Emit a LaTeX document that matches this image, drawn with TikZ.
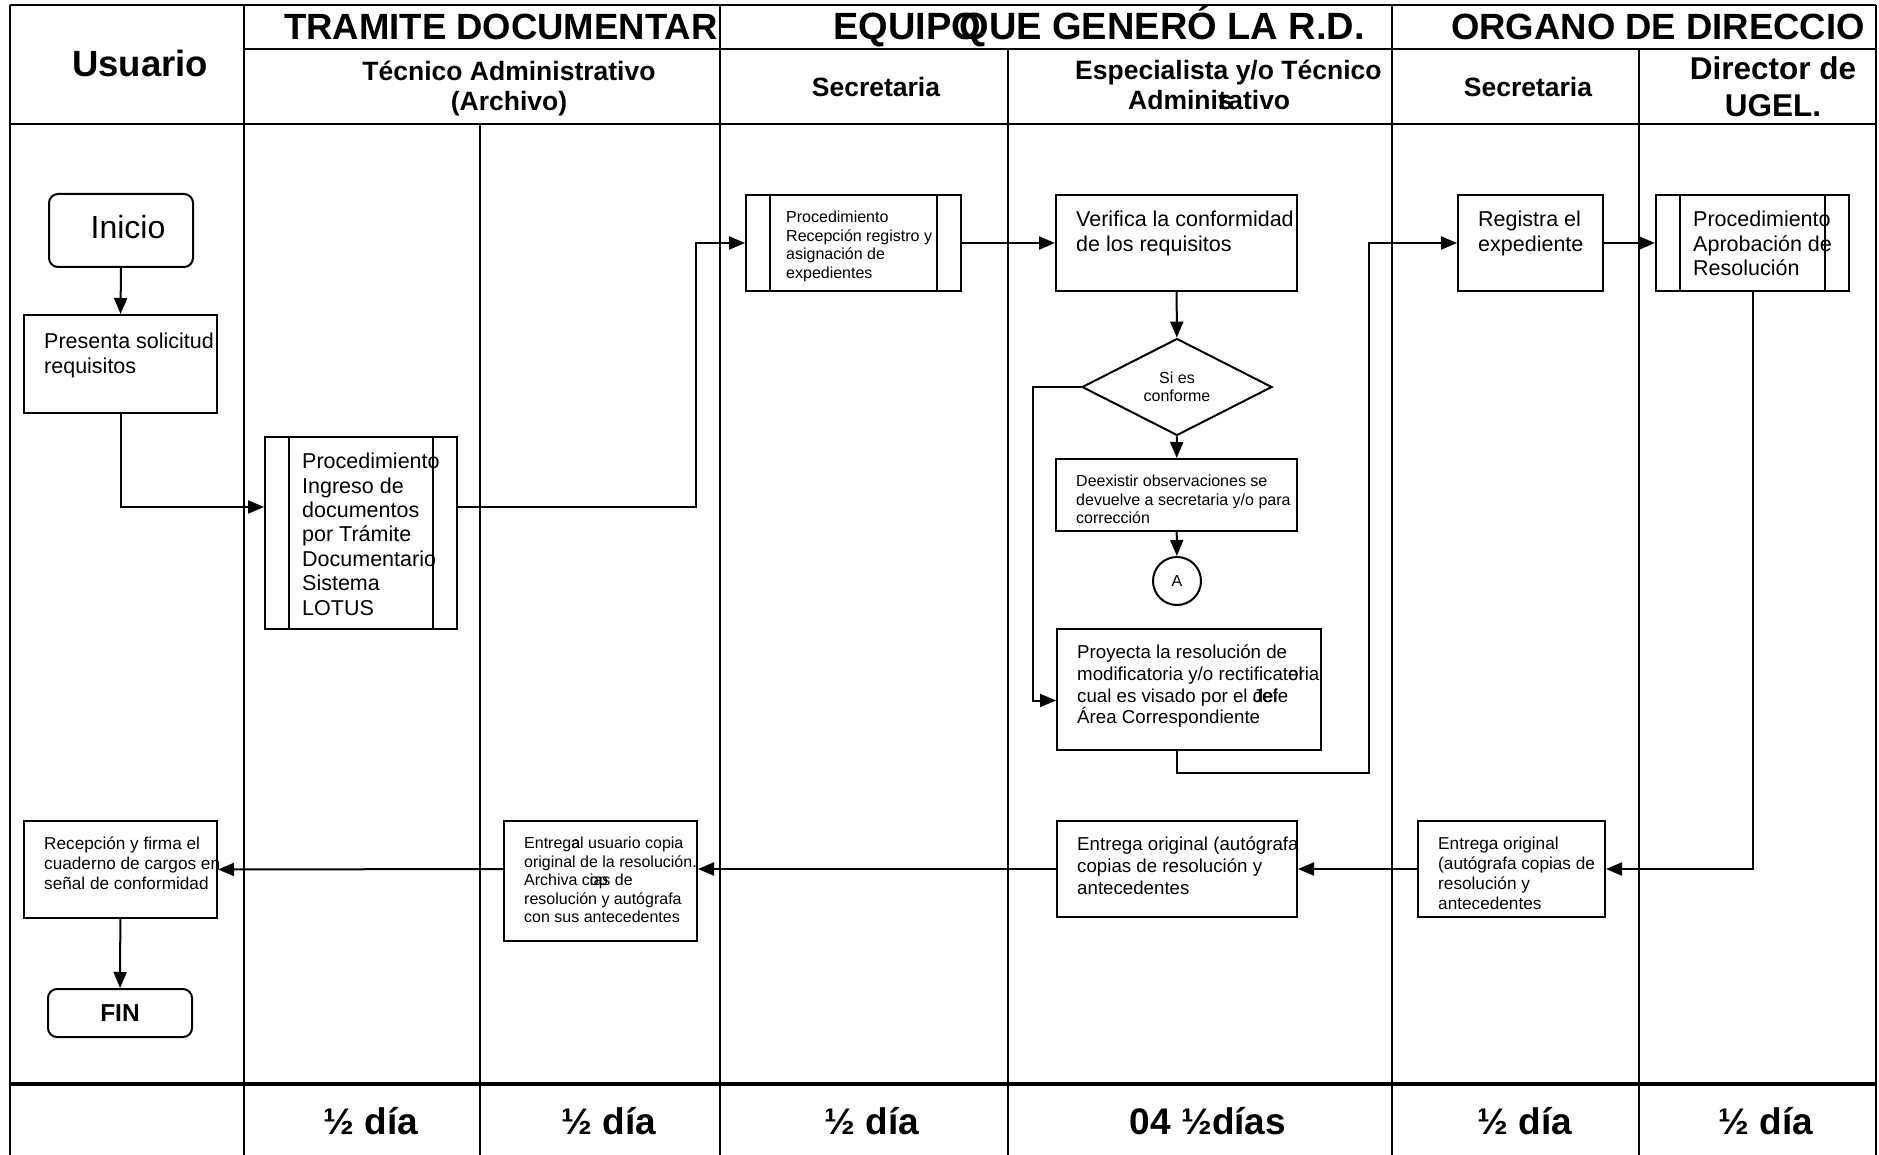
\documentclass[tikz,border=0pt]{standalone}
\usepackage{fontspec}
\setmainfont{Liberation Sans}
\usetikzlibrary{arrows.meta,shapes.geometric}

\tikzset{
  grid/.style={line width=2.3pt},
  stepbox/.style={draw, line width=2pt, inner sep=0pt},
  subproc/.style={stepbox, path picture={
      \draw[line width=2pt]
        ([xshift=24pt]path picture bounding box.north west) -- ([xshift=24pt]path picture bounding box.south west)
        ([xshift=-24pt]path picture bounding box.north east) -- ([xshift=-24pt]path picture bounding box.south east);}},
  endbox/.style={stepbox, rounded corners=9pt},
  lbl/.style={anchor=north west, align=left, inner xsep=21pt, inner ysep=17pt},
  fA/.style={font=\fontsize{21.5}{24.4}\selectfont},
  fB/.style={font=\fontsize{16}{18.5}\selectfont},
  fC/.style={font=\fontsize{18.7}{21.6}\selectfont},
  fD/.style={font=\fontsize{17.2}{20}\selectfont},
  hdbig/.style={font=\bfseries\fontsize{36.5}{40}\selectfont, inner sep=0pt},
  hdmid/.style={font=\bfseries\fontsize{26.5}{30.5}\selectfont, inner sep=0pt, align=center},
  hddir/.style={font=\bfseries\fontsize{31.5}{37.5}\selectfont, inner sep=0pt, align=center},
  dur/.style={font=\bfseries\fontsize{37}{40}\selectfont, inner sep=0pt, anchor=base},
  arr/.style={line width=2pt, -{Triangle[length=16pt,width=13pt]}},
}

\begin{document}
\begin{tikzpicture}[x=1pt, y=-1pt]
\useasboundingbox (0,0) rectangle (1879,1155);

% swimlanes
\draw[grid] (10,5) -- (1876,5);
\draw[grid] (244,49) -- (1876,49);
\draw[grid] (10,124) -- (1876,124);
\draw[grid, line width=3.2pt] (10,1084) -- (1876,1084);
\foreach \x in {10,244,720,1392,1876} \draw[grid] (\x,5) -- (\x,1155);
\foreach \x in {1008,1639} \draw[grid] (\x,49) -- (\x,1155);
\draw[grid] (480,124) -- (480,1155);

% headers
\node[hdbig, anchor=base] (usuario) at (140,77) {Usuario};
\begin{scope}
\clip (244,5) rectangle (720,49);
\node[hdbig, anchor=base west] (tramite) at (284,40) {TRAMITE DOCUMENTAR};
\end{scope}
\node[hdbig, font=\bfseries\fontsize{38}{40}\selectfont, anchor=base west] (equipo) at (833,40) {EQUIPO};
\node[hdbig, font=\bfseries\fontsize{38}{40}\selectfont, anchor=base east] (genero) at (1365,40) {QUE GENERÓ LA R.D.};
\node[hdbig, anchor=base west] (organo) at (1451,40) {ORGANO DE DIRECCIO};
\node[hdmid, anchor=base] (tecnico) at (509,111) {Técnico Administrativo\\(Archivo)};
\node[hdmid] (secr1) at (876,87) {Secretaria};
\node[hdmid, align=left, anchor=base west] (espec) at (1075,110) {Especialista y/o Técnico\\\hspace*{53pt}Admini\rlap{s}\rlap{t}rativo};
\node[hdmid] (secr2) at (1528,87) {Secretaria};
\node[hddir, anchor=base] (director) at (1773,117) {Director de\\UGEL.};

% flow
\node[endbox, minimum width=144pt, minimum height=73pt, text depth=7pt, font=\fontsize{32}{36}\selectfont] (inicio) at (121,230.5) {\hspace*{14pt}Inicio};
\node[stepbox, minimum width=193pt, minimum height=98pt,
  label={[lbl,fA,inner ysep=19pt]north west:{Presenta solicitud\\requisitos}}] (pres) at (120.5,364) {};
\node[subproc, minimum width=192pt, minimum height=192pt,
  label={[lbl,fA,inner xsep=38pt]north west:{Procedimiento\\Ingreso de\\documentos\\por Trámite\\Documentario\\Sistema\\LOTUS}}] (ingreso) at (361,533) {};
\node[subproc, minimum width=215pt, minimum height=96pt,
  label={[lbl,fB,inner xsep=41pt]north west:{Procedimiento\\Recepción registro y\\asignación de\\expedientes}}] (recep) at (853.5,243) {};
\node[stepbox, minimum width=241pt, minimum height=96pt,
  label={[lbl,fA]north west:{Verifica la conformidad\\de los requisitos}}] (verif) at (1176.5,243) {};
\node[stepbox, diamond, minimum width=190pt, minimum height=95pt, align=center, fB] (cond) at (1177,387) {Si es\\conforme};
\node[stepbox, minimum width=241pt, minimum height=72pt,
  label={[lbl,fB]north west:{Deexistir observaciones se\\devuelve a secretaria y/o para\\corrección}}] (obs) at (1176.5,495) {};
\node[stepbox, circle, minimum size=48pt, fB] (conA) at (1177,581) {A};
\node[stepbox, minimum width=264pt, minimum height=121pt,
  label={[lbl,fC]north west:{Proyecta la resolución de\\modificatoria y/o rectificat\rlap{el}oria\\cual es visado por el \rlap{del}Jefe\\Área Correspondiente}}] (proy) at (1189,689.5) {};
\node[stepbox, minimum width=145pt, minimum height=96pt,
  label={[lbl,fA]north west:{Registra el\\expediente}}] (regis) at (1530.5,243) {};
\node[subproc, minimum width=193pt, minimum height=96pt,
  label={[lbl,fA,inner xsep=38pt]north west:{Procedimiento\\Aprobación de\\Resolución}}] (aprob) at (1752.5,243) {};
\node[stepbox, minimum width=187pt, minimum height=96pt,
  label={[lbl,fD]north west:{Entrega original\\(autógrafa copias de\\resolución y\\antecedentes}}] (entsec) at (1511.5,869) {};
\node[stepbox, minimum width=240pt, minimum height=96pt,
  label={[lbl,fC]north west:{Entrega original (autógrafa\\copias de resolución y\\antecedentes}}] (entesp) at (1177,869) {};
\node[stepbox, minimum width=193pt, minimum height=120pt,
  label={[lbl,fB]north west:{Entreg\rlap{a}al usuario copia\\original de la resolución.\\Archiva c\rlap{op}ias de\\resolución y autógrafa\\con sus antecedentes}}] (entarch) at (600.5,881) {};
\node[stepbox, minimum width=193pt, minimum height=97pt,
  label={[lbl,fD]north west:{Recepción y firma el\\cuaderno de cargos en\\señal de conformidad}}] (firma) at (120.5,869.5) {};
\node[endbox, minimum width=144pt, minimum height=48pt, font=\bfseries\fontsize{24.5}{28}\selectfont] (fin) at (120,1013) {FIN};

% connectors
\coordinate (c1) at (696,400);
\coordinate (c2) at (1033,600);
\coordinate (c3) at (1369,773);
\draw[arr] (inicio.south) -- (pres.north);
\draw[arr] (pres.south) |- ([yshift=26pt]ingreso.west);
\draw[arr] ([yshift=26pt]ingreso.east) -| (c1) |- (recep.west);
\draw[arr] (recep) -- (verif);
\draw[arr] (verif) -- (cond);
\draw[arr] (cond) -- (obs);
\draw[arr] (obs) -- (conA);
\draw[arr] (cond.west) -| (c2) |- ([yshift=-11pt]proy.west);
\draw[arr] ([xshift=-12pt]proy.south) |- (c3) |- (regis.west);
\draw[arr] (regis) -- (aprob);
\draw[arr] (aprob.south) |- (entsec.east);
\draw[arr] (entsec) -- (entesp);
\draw[arr] (entesp.west) -- ([yshift=12pt]entarch.east);
\draw[arr] ([yshift=12pt]entarch.west) -- (firma.east);
\draw[arr] (firma) -- (fin);

% duration row
\node[dur] (d1) at (371,1134) {½ día};
\node[dur] (d2) at (609,1134) {½ día};
\node[dur] (d3) at (872,1134) {½ día};
\node[dur] (d4) at (1208,1134) {04 ½días};
\node[dur] (d5) at (1525,1134) {½ día};
\node[dur] (d6) at (1766,1134) {½ día};
\end{tikzpicture}
\end{document}
